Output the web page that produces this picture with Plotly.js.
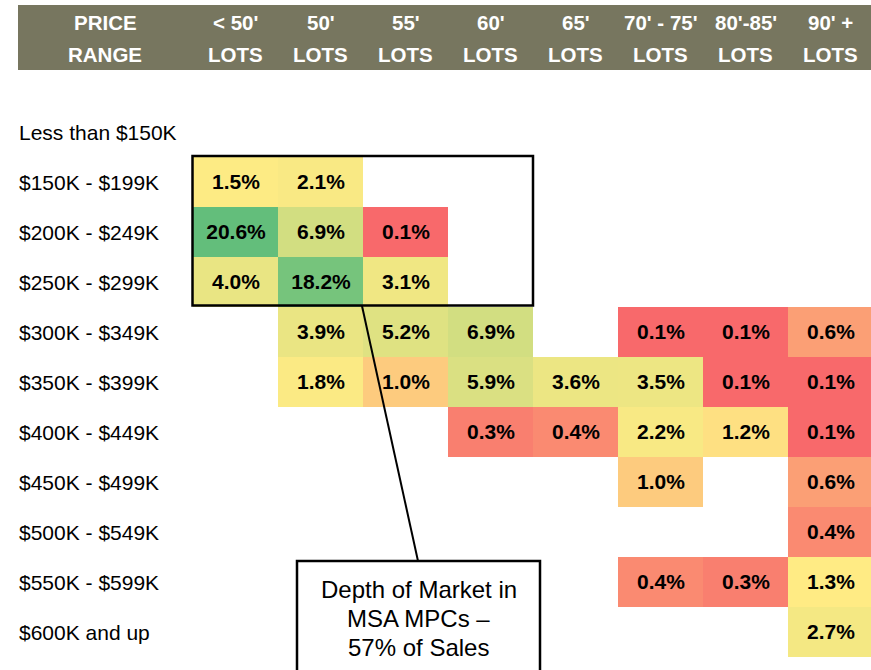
<!DOCTYPE html>
<html>
<head>
<meta charset="utf-8">
<script src="https://cdn.plot.ly/plotly-3.0.1.min.js"></script>
<style>html,body{margin:0;padding:0;background:#fff;}#chart{width:871px;height:670px;}</style>
</head>
<body>
<div id="chart"></div>
<script>
// ---- data ----
var headerTop = ["PRICE", "< 50'", "50'", "55'", "60'", "65'", "70' - 75'", "80'-85'", "90' +"];
var headerBottom = ["RANGE", "LOTS", "LOTS", "LOTS", "LOTS", "LOTS", "LOTS", "LOTS", "LOTS"];
var priceRanges = ["Less than $150K", "$150K - $199K", "$200K - $249K", "$250K - $299K",
  "$300K - $349K", "$350K - $399K", "$400K - $449K", "$450K - $499K",
  "$500K - $549K", "$550K - $599K", "$600K and up"];
var lotCols = [0, 1, 2, 3, 4, 5, 6, 7];
var rowIdx = [0, 1, 2, 3, 4, 5, 6, 7, 8, 9, 10];
var shareLt150 = [null, null, null, null, null, null, null, null];
var share150 = [1.5, 2.1, null, null, null, null, null, null];
var share200 = [20.6, 6.9, 0.1, null, null, null, null, null];
var share250 = [4.0, 18.2, 3.1, null, null, null, null, null];
var share300 = [null, 3.9, 5.2, 6.9, null, 0.1, 0.1, 0.6];
var share350 = [null, 1.8, 1.0, 5.9, 3.6, 3.5, 0.1, 0.1];
var share400 = [null, null, null, 0.3, 0.4, 2.2, 1.2, 0.1];
var share450 = [null, null, null, null, null, 1.0, null, 0.6];
var share500 = [null, null, null, null, null, null, null, 0.4];
var share550 = [null, null, null, null, null, 0.4, 0.3, 1.3];
var share600 = [null, null, null, null, null, null, null, 2.7];
var calloutLines = ["Depth of Market in", "MSA MPCs \u2013", "57% of Sales"];

var z = [shareLt150, share150, share200, share250, share300, share350, share400, share450, share500, share550, share600];
var txt = z.map(function(r){ return r.map(function(v){ return v == null ? "" : v.toFixed(1) + "%"; }); });

// Excel-style 3-colour scale: min red, median yellow, max green
var flat = [];
z.forEach(function(r){ r.forEach(function(v){ if (v != null) flat.push(v); }); });
flat.sort(function(a,b){ return a-b; });
var zmin = flat[0], zmax = flat[flat.length-1];
var n = flat.length, med = n % 2 ? flat[(n-1)/2] : (flat[n/2-1] + flat[n/2]) / 2;
var midPos = (med - zmin) / (zmax - zmin);

var W = 871, H = 670;
function px(x){ return x / W; }
function py(y){ return 1 - y / H; }

var FONT = "Liberation Sans, Arial, Helvetica, sans-serif";

var trace = {
  type: "heatmap",
  x: lotCols, y: rowIdx, z: z,
  text: txt, texttemplate: "%{text}",
  textfont: {family: FONT, size: 21, color: "#000000", weight: "bold"},
  zmin: zmin, zmax: zmax,
  colorscale: [[0, "#F8696B"], [midPos, "#FFEB84"], [1, "#63BE7B"]],
  showscale: false, hoverinfo: "skip", xgap: 0, ygap: 0
};

var annotations = [];
var colCenters = [105, 235.5, 320.5, 405.5, 490.5, 575.5, 660.5, 745.5, 830.5];
for (var i = 0; i < headerTop.length; i++) {
  annotations.push({xref: "paper", yref: "paper", x: px(colCenters[i]), y: py(22), text: headerTop[i],
    showarrow: false, xanchor: "center", yanchor: "middle", font: {family: FONT, size: 20.5, color: "#ffffff", weight: "bold"}});
  annotations.push({xref: "paper", yref: "paper", x: px(colCenters[i]), y: py(54), text: headerBottom[i],
    showarrow: false, xanchor: "center", yanchor: "middle", font: {family: FONT, size: 20.5, color: "#ffffff", weight: "bold"}});
}
for (var r = 0; r < priceRanges.length; r++) {
  annotations.push({xref: "paper", yref: "y", x: px(17), y: rowIdx[r], text: priceRanges[r],
    showarrow: false, xanchor: "left", yanchor: "middle", font: {family: FONT, size: 21, color: "#000000"}});
}
var calloutY = [589, 618, 647];
for (var k = 0; k < calloutLines.length; k++) {
  annotations.push({xref: "paper", yref: "paper", x: px(418.5), y: py(calloutY[k]), text: calloutLines[k],
    showarrow: false, xanchor: "center", yanchor: "middle", font: {family: FONT, size: 24, color: "#000000"}});
}

var shapes = [
  {type: "rect", xref: "paper", yref: "paper", x0: px(18), x1: px(871), y0: py(5), y1: py(70),
   fillcolor: "#77765F", line: {width: 0}, layer: "below"},
  {type: "rect", xref: "paper", yref: "paper", x0: px(192.5), x1: px(533), y0: py(156), y1: py(305.5),
   line: {color: "#000000", width: 2.5}, fillcolor: "rgba(0,0,0,0)"},
  {type: "line", xref: "paper", yref: "paper", x0: px(362), x1: px(418), y0: py(306), y1: py(561),
   line: {color: "#000000", width: 2}},
  {type: "rect", xref: "paper", yref: "paper", x0: px(297), x1: px(540), y0: py(561), y1: py(680),
   line: {color: "#000000", width: 2.5}, fillcolor: "#ffffff"}
];

// axis ranges so that each column is 85px wide starting at 193px and each row 50px tall starting at 107px
var colW = 85, x0px = 193, rowH = 50, y0px = 107;
var xr = [-0.5 - x0px / colW, -0.5 + (W - x0px) / colW];
var yr = [-0.5 + (H - y0px) / rowH, -0.5 - y0px / rowH];

var layout = {
  width: W, height: H,
  margin: {l: 0, r: 0, t: 0, b: 0, pad: 0},
  paper_bgcolor: "#ffffff", plot_bgcolor: "rgba(0,0,0,0)",
  xaxis: {range: xr, visible: false, fixedrange: true},
  yaxis: {range: yr, visible: false, fixedrange: true},
  annotations: annotations, shapes: shapes, showlegend: false
};

Plotly.newPlot("chart", [trace], layout, {displayModeBar: false, staticPlot: true});
</script>
</body>
</html>
